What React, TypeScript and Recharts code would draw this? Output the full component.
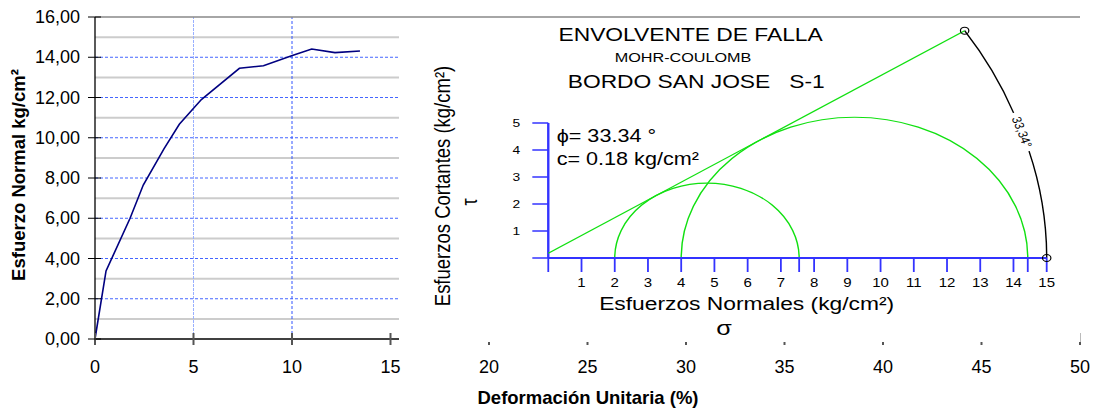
import {
  ComposedChart,
  Line,
  XAxis,
  YAxis,
  ReferenceLine,
  ReferenceArea,
  ReferenceDot,
} from 'recharts';

// curva esfuerzo-deformación
const strain = [0, 0.56, 1.78, 2.45, 3.5, 4.28, 5.4, 7.33, 8.55, 9.98, 11.0, 12.18, 13.45];
const stress = [0, 3.38, 6.0, 7.65, 9.45, 10.67, 11.9, 13.45, 13.58, 14.07, 14.41, 14.23, 14.31];
const strainTicks = [0, 5, 10, 15, 20, 25, 30, 35, 40, 45, 50];
const stressTicks = [0, 2, 4, 6, 8, 10, 12, 14, 16];
const oddGrid = [1, 3, 5, 7, 9, 11, 13, 15];
const evenGrid = [2, 4, 6, 8, 10, 12, 14];

// envolvente Mohr-Coulomb
const sigma3 = [2.0, 4.0];
const sigma1 = [7.55, 14.43];
const cohesion = 0.18;
const phi = 33.34;
const envSigma = [0, 12.53];
const envTau = [0.18, 8.42];
const arcRadius = 15;
const sigmaTicks = [0, 1, 2, 3, 4, 5, 6, 7, 8, 9, 10, 11, 12, 13, 14, 15];
const tauTicks = [0, 1, 2, 3, 4, 5];

const curve = strain.map((s, i) => ({ strain: s, stress: stress[i] }));
const envelope = envSigma.map((s, i) => ({ s, t: envTau[i] }));
const mohrXTicks = [...sigmaTicks, ...sigma1].sort((a, b) => a - b);

const FONT = '"Liberation Sans", Arial, sans-serif';
const BLUE = '#3333ff';
const GREEN = '#11e011';

const fmt = (v: number) => v.toFixed(2).replace('.', ',');

const StressTick = ({ x, y, payload }: any) => (
  <g>
    <line x1={x - 7} x2={x + 6} y1={y} y2={y} stroke="#000" />
    <text x={x - 15} y={y + 6} textAnchor="end" fontSize={18} fill="#000">
      {fmt(payload.value)}
    </text>
  </g>
);

const StrainTick = ({ x, y, payload }: any) => (
  <g>
    <line x1={x} x2={x} y1={y - 6} y2={y + 6} stroke="#555" strokeWidth={2} />
    <text x={x} y={y + 34} textAnchor="middle" fontSize={18} fill="#000">
      {payload.value}
    </text>
  </g>
);

const HalfCircle = ({ x, y, width, height }: any) => (
  <path
    d={`M${x},${y + height} A${width / 2},${height} 0 0 1 ${x + width},${y + height}`}
    fill="none"
    stroke={GREEN}
    strokeWidth={1.2}
  />
);

const AngleArc = ({ x, y, width, height }: any) => {
  const cx = x;
  const cy = y + height;
  const pt = (deg: number) => {
    const a = (deg * Math.PI) / 180;
    return `${cx + width * Math.cos(a)},${cy - height * Math.sin(a)}`;
  };
  const start = `${cx + (width * envSigma[1]) / arcRadius},${cy - (height * envTau[1]) / arcRadius}`;
  const mid = (18.1 * Math.PI) / 180;
  const lx = cx + width * Math.cos(mid);
  const ly = cy - height * Math.sin(mid);
  const rot = (Math.atan2(height * Math.cos(mid), width * Math.sin(mid)) * 180) / Math.PI;
  return (
    <g>
      <path d={`M${start} A${width},${height} 0 0 1 ${pt(21)}`} fill="none" stroke="#000" strokeWidth={1.2} />
      <path d={`M${pt(15.3)} A${width},${height} 0 0 1 ${pt(0)}`} fill="none" stroke="#000" strokeWidth={1.2} />
      <text
        x={lx}
        y={ly}
        dy="0.35em"
        transform={`rotate(${rot} ${lx} ${ly})`}
        textAnchor="middle"
        fontSize={11}
        fill="#000"
      >
        {phi.toFixed(2).replace('.', ',')}°
      </text>
    </g>
  );
};

function MohrChart() {
  return (
    <div
      style={{
        position: 'absolute',
        left: 399,
        top: 18,
        width: 568,
        height: 324,
        background: '#fff',
        transform: 'scaleX(1.2)',
        transformOrigin: 'left top',
      }}
    >
      <ComposedChart
        width={568}
        height={324}
        margin={{ top: 2.4, right: 28.25, bottom: 54, left: 94.4 }}
      >
        <XAxis
          dataKey="s"
          type="number"
          domain={[0, 15]}
          ticks={mohrXTicks}
          interval={0}
          height={30}
          axisLine={{ stroke: BLUE, strokeWidth: 2 }}
          tickLine={{ stroke: BLUE, strokeWidth: 1.5 }}
          tickSize={14}
          tickMargin={5.8}
          tick={{ fill: '#000', fontSize: 12.5 }}
          tickFormatter={(v: number) => (Number.isInteger(v) && v > 0 ? String(v) : '')}
        />
        <YAxis
          type="number"
          domain={[0, 8.8]}
          ticks={tauTicks}
          interval={0}
          width={30}
          axisLine={false}
          tickLine={{ stroke: BLUE, strokeWidth: 1.5 }}
          tickSize={13.3}
          tickMargin={10.2}
          tick={{ fill: '#000', fontSize: 11.5 }}
          tickFormatter={(v: number) => (v > 0 ? String(v) : '')}
        />
        <ReferenceLine
          segment={[{ x: 0, y: 0 }, { x: 0, y: 5 }]}
          stroke={BLUE}
          strokeWidth={2}
          ifOverflow="visible"
        />
        {sigma3.map((s3, i) => (
          <ReferenceArea
            key={`c-${i}`}
            x1={s3}
            x2={sigma1[i]}
            y1={0}
            y2={(sigma1[i] - s3) / 2}
            ifOverflow="visible"
            shape={<HalfCircle />}
          />
        ))}
        <ReferenceArea x1={0} x2={arcRadius} y1={0} y2={arcRadius} ifOverflow="visible" shape={<AngleArc />} />
        <Line
          data={envelope}
          dataKey="t"
          stroke={GREEN}
          strokeWidth={1.2}
          dot={false}
          isAnimationActive={false}
        />
        <ReferenceDot x={envSigma[1]} y={envTau[1]} r={3.5} fill="none" stroke="#000" ifOverflow="visible" />
        <ReferenceDot x={arcRadius} y={0} r={3.5} fill="none" stroke="#000" ifOverflow="visible" />
      </ComposedChart>
      <svg
        width={568}
        height={324}
        style={{ position: 'absolute', left: 0, top: 0, pointerEvents: 'none' }}
        fontFamily={FONT}
        fill="#000"
      >
        <text x={243} y={22.7} textAnchor="middle" fontSize={19}>ENVOLVENTE DE FALLA</text>
        <text x={236.7} y={43.7} textAnchor="middle" fontSize={13.5}>MOHR-COULOMB</text>
        <text x={140.6} y={70.3} fontSize={19}>BORDO SAN JOSE{'\u00a0\u00a0\u00a0'}S-1</text>
        <text x={131.4} y={123.7} fontSize={18}>{`ϕ= ${phi.toFixed(2)} °`}</text>
        <text x={131.4} y={147} fontSize={18}>{`c= ${cohesion.toFixed(2)} kg/cm²`}</text>
        <text x={42.5} y={168} textAnchor="middle" fontSize={18.5} transform="rotate(-90 42.5 168)">
          Esfuerzos Cortantes (kg/cm²)
        </text>
        <text x={65} y={184} textAnchor="middle" fontSize={18} transform="rotate(-90 65 184)">τ</text>
        <text x={289.7} y={292} textAnchor="middle" fontSize={19}>Esfuerzos Normales (kg/cm²)</text>
        <text x={270.8} y={317} textAnchor="middle" fontSize={21}>σ</text>
      </svg>
    </div>
  );
}

export default function App() {
  return (
    <div
      style={{
        position: 'absolute',
        left: 0,
        top: 0,
        width: 1095,
        height: 411,
        background: '#fff',
        fontFamily: FONT,
      }}
    >
      <ComposedChart
        width={1095}
        height={411}
        data={curve}
        margin={{ top: 17, right: 15, bottom: 32, left: 35 }}
      >
        {oddGrid.map((v) => (
          <ReferenceLine key={`o-${v}`} y={v} stroke="#cccccc" strokeWidth={2} />
        ))}
        {evenGrid.map((v) => (
          <ReferenceLine key={`e-${v}`} y={v} stroke="#4466ff" strokeDasharray="3 2" />
        ))}
        <ReferenceLine x={5} stroke="#99b0ff" strokeDasharray="3 1" />
        <ReferenceLine x={10} stroke="#3355ff" strokeDasharray="3 2" />
        <ReferenceLine y={16} stroke="#888888" strokeWidth={1.5} />
        <XAxis
          dataKey="strain"
          type="number"
          domain={[0, 50]}
          ticks={strainTicks}
          interval={0}
          height={40}
          axisLine={{ stroke: '#000', strokeWidth: 1.3 }}
          tickLine={false}
          tickSize={0}
          tickMargin={0}
          tick={<StrainTick />}
        />
        <YAxis
          type="number"
          domain={[0, 16]}
          ticks={stressTicks}
          interval={0}
          width={60}
          axisLine={{ stroke: '#000', strokeWidth: 1.3 }}
          tickLine={false}
          tickSize={0}
          tickMargin={0}
          tick={<StressTick />}
        />
        <Line
          dataKey="stress"
          stroke="#000080"
          strokeWidth={1.6}
          dot={false}
          isAnimationActive={false}
        />
      </ComposedChart>
      <svg
        width={1095}
        height={411}
        style={{ position: 'absolute', left: 0, top: 0, pointerEvents: 'none' }}
        fontFamily={FONT}
        fontWeight="bold"
        fill="#000"
      >
        <text x={25} y={175} textAnchor="middle" fontSize={18.5} transform="rotate(-90 25 175)">
          Esfuerzo Normal kg/cm²
        </text>
        <text x={588} y={404} textAnchor="middle" fontSize={18.5}>Deformación Unitaria (%)</text>
      </svg>
      <MohrChart />
    </div>
  );
}
